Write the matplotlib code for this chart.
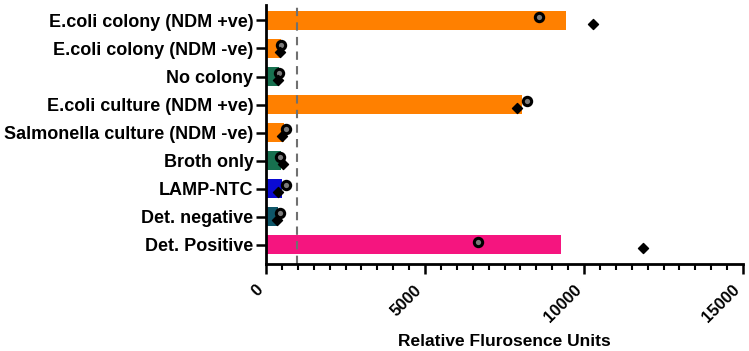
import matplotlib
matplotlib.use('Agg')
import matplotlib.pyplot as plt
from matplotlib.ticker import MultipleLocator
import numpy as np

plt.rcParams['font.family'] = ['Liberation Sans', 'DejaVu Sans']
plt.rcParams['font.weight'] = 'bold'

# categories from top to bottom
labels = ['E.coli colony (NDM +ve)', 'E.coli colony (NDM -ve)', 'No colony',
          'E.coli culture (NDM +ve)', 'Salmonella culture (NDM -ve)', 'Broth only',
          'LAMP-NTC', 'Det. negative', 'Det. Positive']
rep1 = [8570, 480, 420, 8210, 630, 440, 630, 440, 6680]     # circles
rep2 = [10280, 440, 390, 7900, 490, 520, 390, 335, 11870]   # diamonds
colors = ['#FF8000', '#FF8000', '#17704F', '#FF8000', '#FF8000', '#17704F',
          '#0A0AD2', '#0E5668', '#F5157F']
threshold = 970

means = [(a + b) / 2 for a, b in zip(rep1, rep2)]
n = len(labels)
ypos = np.arange(n)[::-1]

fig = plt.figure(figsize=(7.49, 3.51), dpi=100)
ax = fig.add_axes([266/749, 1 - 264/351, 477/749, 259/351])

ax.barh(ypos, means, height=0.68, color=colors, zorder=1)
ax.scatter(rep1, ypos + 0.12, marker='o', s=36, facecolor='#7a7a7a',
           edgecolor='black', linewidth=2.2, zorder=3)
ax.scatter(rep2, ypos - 0.12, marker='D', s=26, color='black', zorder=3)
ax.axvline(threshold, color='#707070', linestyle=(0, (4, 3)), linewidth=1.5, zorder=2)

ax.set_xlim(0, 15000)
ax.set_ylim(-0.68, n - 1 + 0.55)
ax.set_yticks(ypos)
ax.set_yticklabels(labels, fontsize=13, fontweight='bold')
ax.xaxis.set_major_locator(MultipleLocator(5000))
ax.xaxis.set_minor_locator(MultipleLocator(500))
plt.setp(ax.get_xticklabels(), rotation=45, ha='right', va='bottom',
         rotation_mode='anchor', fontsize=12, fontweight='bold')
ax.tick_params(axis='both', which='major', length=7, width=1.8, direction='out')
ax.tick_params(axis='y', pad=2)
ax.tick_params(axis='x', which='minor', length=4, width=1.5, direction='out')
ax.tick_params(axis='x', pad=14)

for s in ['top', 'right']:
    ax.spines[s].set_visible(False)
for s in ['left', 'bottom']:
    ax.spines[s].set_linewidth(2)

ax.set_xlabel('Relative Flurosence Units', fontsize=12.5, fontweight='bold', labelpad=6)

fig.savefig('out.png', dpi=100)
